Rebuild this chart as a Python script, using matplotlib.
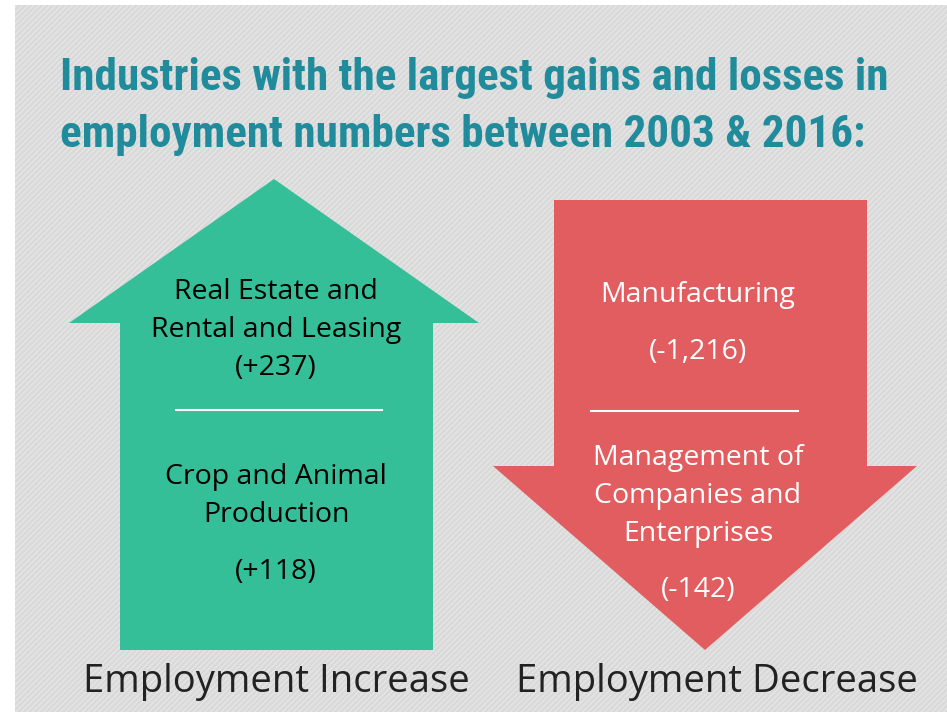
import matplotlib
matplotlib.use('Agg')
import matplotlib.pyplot as plt
from matplotlib.patches import Polygon, Rectangle

# chart content
title_lines = ['Industries with the largest gains and losses in',
               'employment numbers between 2003 & 2016:']
gain_names = ['Real Estate and\nRental and Leasing', 'Crop and Animal\nProduction']
gain_values = [237, 118]
loss_names = ['Manufacturing', 'Management of\nCompanies and\nEnterprises']
loss_values = [-1216, -142]
panel_labels = ['Employment Increase', 'Employment Decrease']

GREEN = '#35bf98'
RED = '#e15d5f'
TEAL = '#1f8b9b'
BODY = 'Open Sans'
FS = 20.5

fig = plt.figure(figsize=(9.47, 7.12), dpi=100)
ax = fig.add_axes([0, 0, 1, 1])
ax.set_xlim(0, 947)
ax.set_ylim(712, 0)
ax.axis('off')

# textured grey background
ax.add_patch(Rectangle((15, 5), 932, 707, facecolor='#d9d9d9', edgecolor='#e6e6e6',
                       hatch='//////', linewidth=0))

# title
for i, line in enumerate(title_lines):
    ax.text(60, 90 + 57 * i, line, color=TEAL, fontsize=32.5, fontweight='bold',
            family=['Roboto Condensed', 'DejaVu Sans'], va='baseline', ha='left')

# up arrow
up = [(274, 179), (479, 323), (433, 323), (433, 650), (120, 650), (120, 323), (69, 323)]
ax.add_patch(Polygon(up, closed=True, facecolor=GREEN, edgecolor='none'))

# down arrow
down = [(554, 200), (867, 200), (867, 466), (917, 466), (705, 650), (493, 466), (554, 466)]
ax.add_patch(Polygon(down, closed=True, facecolor=RED, edgecolor='none'))

def fmt(v):
    return '(%s%s)' % ('+' if v > 0 else '', format(v, ','))

def block(x, y0, name, color):
    for j, ln in enumerate(name.split('\n')):
        ax.text(x, y0 + 38 * j, ln, ha='center', va='center', fontsize=FS,
                family=BODY, color=color)

# green texts
block(276, 292, gain_names[0], 'black')
ax.text(276, 368, fmt(gain_values[0]), ha='center', va='center', fontsize=FS,
        family=BODY, color='black')
ax.plot([176, 382], [410, 410], color='white', lw=1.5)
block(276, 477, gain_names[1], 'black')
ax.text(276, 572, fmt(gain_values[1]), ha='center', va='center', fontsize=FS,
        family=BODY, color='black')

# red texts
block(698, 295, loss_names[0], 'white')
ax.text(698, 352, fmt(loss_values[0]), ha='center', va='center', fontsize=FS,
        family=BODY, color='white')
ax.plot([591, 798], [411, 411], color='white', lw=1.5)
block(698, 458, loss_names[1], 'white')
ax.text(698, 590, fmt(loss_values[1]), ha='center', va='center', fontsize=FS,
        family=BODY, color='white')

# bottom labels
ax.text(276, 682, panel_labels[0], ha='center', va='center', fontsize=27.5,
        family=BODY, color='#222222')
ax.text(717, 682, panel_labels[1], ha='center', va='center', fontsize=27.5,
        family=BODY, color='#222222')

fig.savefig('out.png', dpi=100)
